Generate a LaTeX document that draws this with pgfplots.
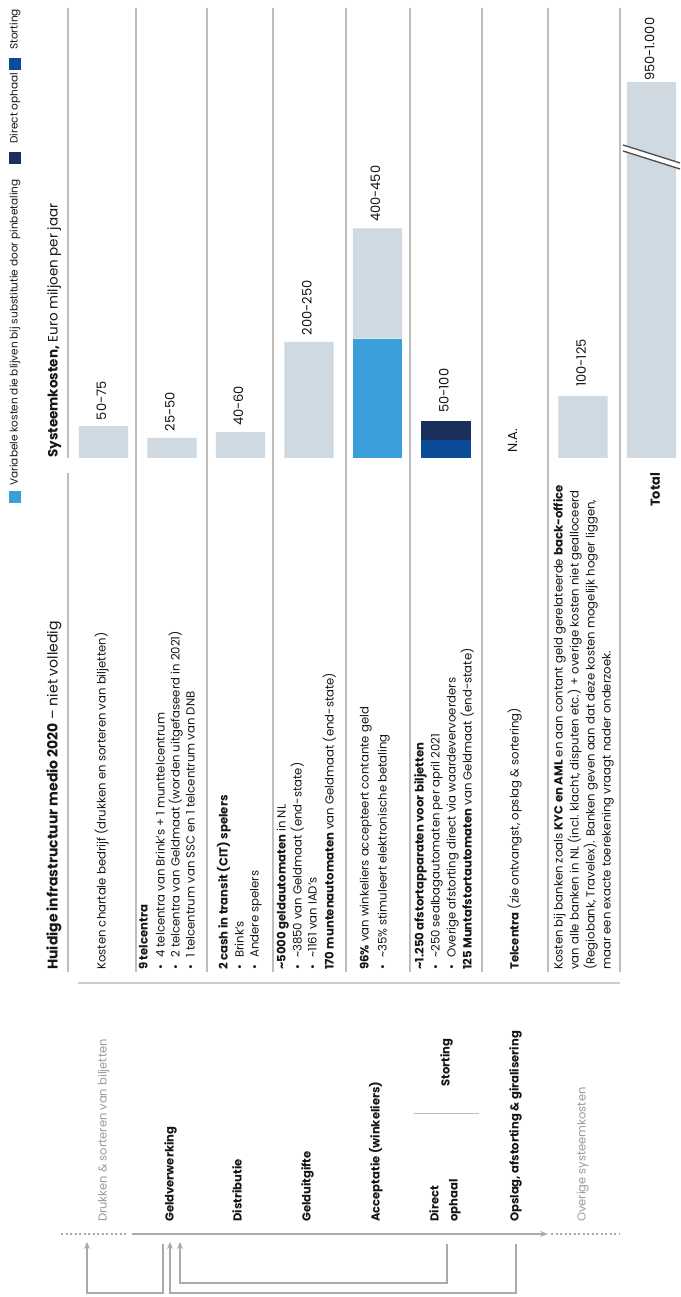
\documentclass[border=0pt]{standalone}
\usepackage{fontspec}
\setmainfont{Poppins}
\usepackage{pgfplots}
\pgfplotsset{compat=1.18}
\usetikzlibrary{arrows.meta}

\definecolor{barg}{HTML}{CED9E1}
\definecolor{lblue}{HTML}{3A9FDB}
\definecolor{navy}{HTML}{1B2F5C}
\definecolor{stblue}{HTML}{0B4C98}
\definecolor{sep}{HTML}{BEBEBE}
\definecolor{hsep}{HTML}{C8CDD2}
\definecolor{txt}{HTML}{161616}
\definecolor{gtxt}{HTML}{9A9A9A}
\definecolor{arr}{HTML}{AAAAAA}

\tikzset{
  rt/.style={rotate=90, anchor=mid west, inner sep=0pt, text=txt,
    font=\fontsize{11.7}{13}\selectfont},
  lab/.style={rotate=90, anchor=mid west, inner sep=0pt, text=txt,
    font=\fontsize{13}{15}\selectfont},
  chain/.style={rotate=90, anchor=mid west, inner sep=0pt, text=txt,
    font=\fontsize{11.6}{13}\selectfont\bfseries},
  ar/.style={arr, line width=1.2pt},
  dots/.style={arr, line width=1.2pt, dash pattern=on 2pt off 2.5pt},
}
% one rotated text line of a table row, and a bulleted one
\newcommand{\rowl}[2]{\node[rt] at (#1,970) {#2};}
\newcommand{\bull}[2]{\node[rt] at (#1,970) {\textbullet}; \node[rt] at (#1,958) {#2};}

\begin{document}
\begin{tikzpicture}[x=1pt,y=1pt]
\useasboundingbox (0,0) rectangle (680,1297);
\fill[white] (0,0) rectangle (680,1297);

% separators, in picture coordinates (y down)
\begin{scope}[yshift=1297pt, yscale=-1]
\foreach \x in {136,207,273,346,410,482,548,620}
  \draw[sep, line width=1.3pt] (\x,8) -- (\x,972);
\draw[sep, line width=1.3pt] (68,8) -- (68,458);
\draw[sep, line width=1.3pt] (68,473) -- (68,972);
\draw[hsep, line width=2.5pt] (78,983) -- (620,983);
\end{scope}

\begin{axis}[
  at={(68pt,839pt)}, anchor=south west,
  scale only axis, width=612pt, height=458pt,
  hide axis, clip=false,
  xmin=0.482, xmax=9.416, ymin=0, ymax=864,
  ybar stacked, bar width=0.72,
]
% variabele kosten die blijven
\addplot[fill=lblue, draw=none] coordinates {(1,0) (2,0) (3,0) (4,0) (5,225) (6,0) (7,0) (8,0) (9,0)};
% storting
\addplot[fill=stblue, draw=none] coordinates {(1,0) (2,0) (3,0) (4,0) (5,0) (6,34) (7,0) (8,0) (9,0)};
% direct ophaal
\addplot[fill=navy, draw=none] coordinates {(1,0) (2,0) (3,0) (4,0) (5,0) (6,36) (7,0) (8,0) (9,0)};
% overige systeemkosten (Total drawn broken)
\addplot[fill=barg, draw=none] coordinates {(1,60) (2,38) (3,49) (4,219) (5,208) (6,0) (7,0) (8,117) (9,709)};

\node[lab] at (axis cs:1,71) {50-75};
\node[lab] at (axis cs:2,50) {25-50};
\node[lab] at (axis cs:3,60) {40-60};
\node[lab] at (axis cs:4,231) {200-250};
\node[lab] at (axis cs:5,445) {400-450};
\node[lab] at (axis cs:6,85) {50-100};
\node[lab] at (axis cs:7,10) {N.A.};
\node[lab] at (axis cs:8,134) {100-125};
\node[lab] at (axis cs:9,711) {950-1.000};
\end{axis}

\begin{scope}[yshift=1297pt, yscale=-1]
% axis break on the total bar
\fill[white] (623,145) -- (680,163) -- (680,169) -- (623,151) -- cycle;
\draw[black!70, line width=1.3pt] (623,145) -- (680,163);
\draw[black!70, line width=1.3pt] (623,151) -- (680,169);

% legend
\fill[lblue] (9,491) rectangle (21,503);
\node[rt, font=\fontsize{10.5}{12}\selectfont] at (15,486) {Variabele kosten die blijven bij substitutie door pinbetaling};
\fill[navy] (9,152) rectangle (21,164);
\node[rt, font=\fontsize{10.5}{12}\selectfont] at (15,144) {Direct ophaal};
\fill[stblue] (9,58) rectangle (21,70);
\node[rt, font=\fontsize{10.5}{12}\selectfont] at (15,50) {Storting};

% headers
\node[rt, font=\fontsize{13.5}{16}\selectfont] at (55,458) {\textbf{Systeemkosten,} Euro miljoen per jaar};
\node[rt, font=\fontsize{14}{16}\selectfont] at (55,970) {\textbf{Huidige infrastructuur medio 2020} – niet volledig};
\node[rt, font=\fontsize{13}{15}\selectfont\bfseries] at (657,507) {Total};

% table rows
\rowl{103}{Kosten chartale bedrijf (drukken en sorteren van biljetten)}
\rowl{145}{\textbf{9 telcentra}}
\bull{162}{4 telcentra van Brink’s + 1 munttelcentrum}
\bull{177}{2 telcentra van Geldmaat (worden uitgefaseerd in 2021)}
\bull{192}{1 telcentrum van SSC en 1 telcentrum van DNB}
\rowl{225}{\textbf{2 cash in transit (CIT) spelers}}
\bull{241}{Brink’s}
\bull{256}{Andere spelers}
\rowl{283}{\textbf{\textasciitilde 5000 geldautomaten} in NL}
\bull{299}{\textasciitilde 3850 van Geldmaat (end-state)}
\bull{314}{\textasciitilde 1161 van IAD’s}
\rowl{331}{\textbf{170 muntenautomaten} van Geldmaat (end-state)}
\rowl{366}{\textbf{96\%} van winkeliers accepteert contante geld}
\bull{384}{\textasciitilde 35\% stimuleert elektronische betaling}
\rowl{421}{\textbf{\textasciitilde 1.250 afstortapparaten voor biljetten}}
\bull{437}{\textasciitilde 250 sealbagautomaten per april 2021}
\bull{453}{Overige afstorting direct via waardevervoerders}
\rowl{469}{\textbf{125 Muntafstortautomaten} van Geldmaat (end-state)}
\rowl{516}{\textbf{Telcentra} (zie ontvangst, opslag \& sortering)}
\rowl{560}{Kosten bij banken zoals \textbf{KYC en AML} en aan contant geld gerelateerde \textbf{back-office}}
\rowl{576}{van alle banken in NL (incl. klacht, disputen etc.) + overige kosten niet gealloceerd}
\rowl{592}{(Regiobank, Travelex). Banken geven aan dat deze kosten mogelijk hoger liggen,}
\rowl{608}{maar een exacte toerekening vraagt nader onderzoek.}

% chain labels
\node[rt, font=\fontsize{11.5}{13}\selectfont, text=gtxt] at (104,1222) {Drukken \& sorteren van biljetten};
\node[chain] at (171,1222) {Geldverwerking};
\node[chain] at (239,1222) {Distributie};
\node[chain] at (308,1222) {Gelduitgifte};
\node[chain] at (377,1222) {Acceptatie (winkeliers)};
\node[chain] at (436,1222) {Direct};
\node[chain] at (455,1222) {ophaal};
\node[chain] at (447,1087) {Storting};
\draw[sep, line width=0.8pt] (414,1113) -- (479,1113);
\node[chain] at (516,1222) {Opslag, afstorting \& giralisering};
\node[rt, font=\fontsize{11.5}{13}\selectfont, text=gtxt] at (583,1222) {Overige systeemkosten};

% chain arrow and return arrows
\draw[dots] (61,1234) -- (128,1234);
\draw[ar, -{Stealth[length=8pt,width=6pt]}] (132,1234) -- (548,1234);
\draw[dots] (551,1234) -- (620,1234);
\draw[ar, -{Stealth[length=7pt,width=6pt]}] (163,1244) -- (163,1293) -- (87,1293) -- (87,1242);
\draw[ar, -{Stealth[length=7pt,width=6pt]}] (447,1244) -- (447,1283) -- (180,1283) -- (180,1242);
\draw[ar, -{Stealth[length=7pt,width=6pt]}] (516,1244) -- (516,1293) -- (170,1293) -- (170,1242);
\end{scope}
\end{tikzpicture}
\end{document}
